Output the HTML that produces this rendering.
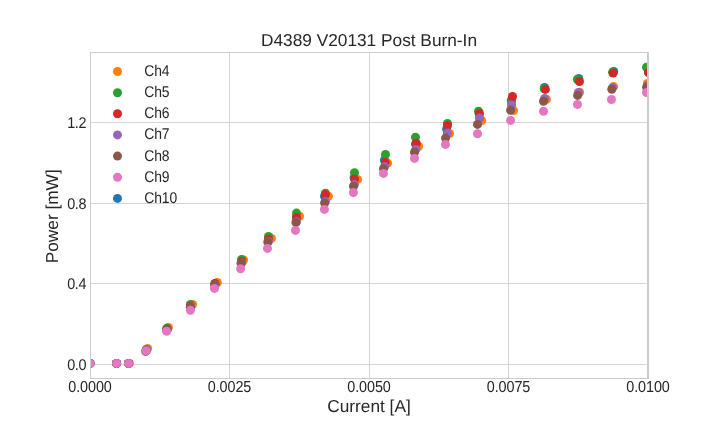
<!DOCTYPE html>
<html><head><meta charset="utf-8"><title>D4389 V20131 Post Burn-In</title>
<style>
html,body{margin:0;padding:0;background:#fff;}
body{width:720px;height:432px;overflow:hidden;}
svg{display:block;}
text{font-family:"Liberation Sans",sans-serif;fill:#262626;text-rendering:geometricPrecision;}
.tick{font-size:14.4px;letter-spacing:-0.1px;}
.lab{font-size:17.28px;}
.leg{font-size:13.9px;letter-spacing:-0.1px;}
</style></head><body>
<svg width="720" height="432" viewBox="0 0 720 432">
<rect width="720" height="432" fill="#ffffff"/>
<defs><clipPath id="ax"><rect x="90" y="52" width="558" height="327"/></clipPath></defs>

<g stroke="#d4d4d4" stroke-width="1" fill="none" shape-rendering="crispEdges">
<line x1="229.5" y1="52" x2="229.5" y2="378"/>
<line x1="369.5" y1="52" x2="369.5" y2="378"/>
<line x1="508.5" y1="52" x2="508.5" y2="378"/>
<line x1="90" y1="364.5" x2="648" y2="364.5"/>
<line x1="90" y1="283.5" x2="648" y2="283.5"/>
<line x1="90" y1="203.5" x2="648" y2="203.5"/>
<line x1="90" y1="122.5" x2="648" y2="122.5"/>
</g>
<g clip-path="url(#ax)">
<g fill="#1f77b4">
<circle cx="90" cy="363.4" r="4.5"/>
<circle cx="116.6" cy="363.4" r="4.5"/>
<circle cx="128.5" cy="363.4" r="4.5"/>
<circle cx="146.5" cy="350" r="4.5"/>
<circle cx="167" cy="329.5" r="4.5"/>
<circle cx="190.5" cy="306" r="4.5"/>
<circle cx="215" cy="284" r="4.5"/>
<circle cx="241.6" cy="261.4" r="4.5"/>
<circle cx="268.5" cy="239.3" r="4.5"/>
<circle cx="296.5" cy="217.3" r="4.5"/>
<circle cx="324.5" cy="196.25" r="4.5"/>
<circle cx="354.1" cy="177.6" r="4.5"/>
<circle cx="384.5" cy="160" r="4.5"/>
<circle cx="415.5" cy="144" r="4.5"/>
<circle cx="446.6" cy="129" r="4.5"/>
<circle cx="479.2" cy="113.8" r="4.5"/>
<circle cx="511.3" cy="100.3" r="4.5"/>
<circle cx="544.5" cy="87.4" r="4.5"/>
<circle cx="578.75" cy="78.5" r="4.5"/>
<circle cx="613.75" cy="71.4" r="4.5"/>
<circle cx="648.5" cy="72.4" r="4.5"/>
</g>
<g fill="#ff7f0e">
<circle cx="90" cy="363.4" r="4.5"/>
<circle cx="116.6" cy="363.4" r="4.5"/>
<circle cx="129.4" cy="363.4" r="4.5"/>
<circle cx="147.6" cy="348.4" r="4.5"/>
<circle cx="168.4" cy="327.4" r="4.5"/>
<circle cx="192.6" cy="304.5" r="4.5"/>
<circle cx="217.3" cy="282.4" r="4.5"/>
<circle cx="243.6" cy="260" r="4.5"/>
<circle cx="271.5" cy="238.4" r="4.5"/>
<circle cx="299.5" cy="216.25" r="4.5"/>
<circle cx="328.4" cy="196.25" r="4.5"/>
<circle cx="357.6" cy="179.4" r="4.5"/>
<circle cx="387.6" cy="163.1" r="4.5"/>
<circle cx="418.6" cy="146.25" r="4.5"/>
<circle cx="449.5" cy="133.5" r="4.5"/>
<circle cx="481.75" cy="120.6" r="4.5"/>
<circle cx="513.6" cy="110.6" r="4.5"/>
<circle cx="546.4" cy="99.4" r="4.5"/>
<circle cx="579.6" cy="92.25" r="4.5"/>
<circle cx="613.6" cy="86.6" r="4.5"/>
<circle cx="647.4" cy="83.4" r="4.5"/>
</g>
<g fill="#2ca02c">
<circle cx="90" cy="363.4" r="4.5"/>
<circle cx="116.6" cy="363.4" r="4.5"/>
<circle cx="128.5" cy="363.4" r="4.5"/>
<circle cx="146.3" cy="349.8" r="4.5"/>
<circle cx="167" cy="328.25" r="4.5"/>
<circle cx="190.4" cy="304.5" r="4.5"/>
<circle cx="215" cy="283.6" r="4.5"/>
<circle cx="241.6" cy="259.5" r="4.5"/>
<circle cx="268.5" cy="236.4" r="4.5"/>
<circle cx="296.5" cy="213.1" r="4.5"/>
<circle cx="325.4" cy="193.25" r="4.5"/>
<circle cx="354.5" cy="172.8" r="4.5"/>
<circle cx="385.5" cy="154.4" r="4.5"/>
<circle cx="415.5" cy="137.2" r="4.5"/>
<circle cx="447.5" cy="123.5" r="4.5"/>
<circle cx="478.5" cy="111.25" r="4.5"/>
<circle cx="511.6" cy="101.4" r="4.5"/>
<circle cx="544.25" cy="88.75" r="4.5"/>
<circle cx="577.4" cy="79.5" r="4.5"/>
<circle cx="612.6" cy="72.25" r="4.5"/>
<circle cx="646.5" cy="67.3" r="4.5"/>
</g>
<g fill="#d62728">
<circle cx="90" cy="363.4" r="4.5"/>
<circle cx="116.6" cy="363.4" r="4.5"/>
<circle cx="128.5" cy="363.4" r="4.5"/>
<circle cx="146.3" cy="350" r="4.5"/>
<circle cx="167" cy="329" r="4.5"/>
<circle cx="190.5" cy="306.3" r="4.5"/>
<circle cx="215" cy="283.5" r="4.5"/>
<circle cx="241.5" cy="261.4" r="4.5"/>
<circle cx="268.5" cy="239.5" r="4.5"/>
<circle cx="296.5" cy="217.5" r="4.5"/>
<circle cx="325.4" cy="194.6" r="4.5"/>
<circle cx="354.5" cy="179.1" r="4.5"/>
<circle cx="385.25" cy="162.6" r="4.5"/>
<circle cx="416.25" cy="143.4" r="4.5"/>
<circle cx="447.5" cy="125.4" r="4.5"/>
<circle cx="479.4" cy="113.5" r="4.5"/>
<circle cx="512.5" cy="96.5" r="4.5"/>
<circle cx="545.4" cy="89.4" r="4.5"/>
<circle cx="579.5" cy="81.5" r="4.5"/>
<circle cx="613.1" cy="73.1" r="4.5"/>
<circle cx="648.5" cy="72.4" r="4.5"/>
</g>
<g fill="#9467bd">
<circle cx="90" cy="363.4" r="4.5"/>
<circle cx="116.6" cy="363.4" r="4.5"/>
<circle cx="128.5" cy="363.4" r="4.5"/>
<circle cx="146.6" cy="350" r="4.5"/>
<circle cx="167.2" cy="330" r="4.5"/>
<circle cx="190.8" cy="307" r="4.5"/>
<circle cx="215.3" cy="285" r="4.5"/>
<circle cx="241.6" cy="263" r="4.5"/>
<circle cx="268.5" cy="241.5" r="4.5"/>
<circle cx="296.5" cy="221.75" r="4.5"/>
<circle cx="325.4" cy="201.6" r="4.5"/>
<circle cx="354.4" cy="184.6" r="4.5"/>
<circle cx="384.6" cy="166.4" r="4.5"/>
<circle cx="415.8" cy="149.5" r="4.5"/>
<circle cx="447.5" cy="133.1" r="4.5"/>
<circle cx="479.4" cy="118.1" r="4.5"/>
<circle cx="511.5" cy="105" r="4.5"/>
<circle cx="544.6" cy="98.5" r="4.5"/>
<circle cx="578.5" cy="92.4" r="4.5"/>
<circle cx="612.6" cy="87.6" r="4.5"/>
<circle cx="647.5" cy="85.4" r="4.5"/>
</g>
<g fill="#8c564b">
<circle cx="90" cy="363.4" r="4.5"/>
<circle cx="116.6" cy="363.4" r="4.5"/>
<circle cx="128.5" cy="363.4" r="4.5"/>
<circle cx="145.7" cy="351.4" r="4.5"/>
<circle cx="166.7" cy="329.5" r="4.5"/>
<circle cx="190.3" cy="307.25" r="4.5"/>
<circle cx="214.6" cy="285.1" r="4.5"/>
<circle cx="241" cy="263.25" r="4.5"/>
<circle cx="267.75" cy="241.9" r="4.5"/>
<circle cx="295.9" cy="222.5" r="4.5"/>
<circle cx="324.6" cy="202.9" r="4.5"/>
<circle cx="353.5" cy="186.25" r="4.5"/>
<circle cx="383.5" cy="168.75" r="4.5"/>
<circle cx="414.5" cy="152.3" r="4.5"/>
<circle cx="445.5" cy="138.1" r="4.5"/>
<circle cx="477.5" cy="124.4" r="4.5"/>
<circle cx="510.6" cy="110.25" r="4.5"/>
<circle cx="543.5" cy="101.25" r="4.5"/>
<circle cx="577.6" cy="95.4" r="4.5"/>
<circle cx="611.8" cy="89.2" r="4.5"/>
<circle cx="646.6" cy="87.2" r="4.5"/>
</g>
<g fill="#e377c2">
<circle cx="90" cy="363.4" r="4.5"/>
<circle cx="116.6" cy="363.4" r="4.5"/>
<circle cx="128.5" cy="363.4" r="4.5"/>
<circle cx="146" cy="350.9" r="4.5"/>
<circle cx="166.6" cy="331.25" r="4.5"/>
<circle cx="190.4" cy="310.25" r="4.5"/>
<circle cx="214.5" cy="288.4" r="4.5"/>
<circle cx="240.6" cy="268.75" r="4.5"/>
<circle cx="267.5" cy="248.4" r="4.5"/>
<circle cx="295.5" cy="230.4" r="4.5"/>
<circle cx="324.4" cy="209.4" r="4.5"/>
<circle cx="353.4" cy="192.5" r="4.5"/>
<circle cx="383.5" cy="173.4" r="4.5"/>
<circle cx="414.5" cy="158.4" r="4.5"/>
<circle cx="445.5" cy="144.4" r="4.5"/>
<circle cx="477.5" cy="133.75" r="4.5"/>
<circle cx="510.6" cy="120.4" r="4.5"/>
<circle cx="543.5" cy="111.25" r="4.5"/>
<circle cx="577.5" cy="104.4" r="4.5"/>
<circle cx="611.5" cy="99.5" r="4.5"/>
<circle cx="646.5" cy="92.5" r="4.5"/>
</g>
</g>
<g fill="#cccccc" shape-rendering="crispEdges"><rect x="90" y="52" width="1" height="327"/><rect x="90" y="52" width="559" height="1"/><rect x="90" y="378" width="559" height="1"/><rect x="647" y="52" width="2" height="327"/></g>
<circle cx="117.5" cy="71.5" r="4.5" fill="#ff7f0e"/>
<text class="leg" transform="translate(144.2,75.9) scale(1,1.12)">Ch4</text>
<circle cx="117.5" cy="92.7" r="4.5" fill="#2ca02c"/>
<text class="leg" transform="translate(144.2,97.1) scale(1,1.12)">Ch5</text>
<circle cx="117.5" cy="113.8" r="4.5" fill="#d62728"/>
<text class="leg" transform="translate(144.2,118.2) scale(1,1.12)">Ch6</text>
<circle cx="117.5" cy="134.9" r="4.5" fill="#9467bd"/>
<text class="leg" transform="translate(144.2,139.3) scale(1,1.12)">Ch7</text>
<circle cx="117.5" cy="156.1" r="4.5" fill="#8c564b"/>
<text class="leg" transform="translate(144.2,160.5) scale(1,1.12)">Ch8</text>
<circle cx="117.5" cy="177.2" r="4.5" fill="#e377c2"/>
<text class="leg" transform="translate(144.2,181.7) scale(1,1.12)">Ch9</text>
<circle cx="117.5" cy="198.4" r="4.5" fill="#1f77b4"/>
<text class="leg" transform="translate(144.2,202.8) scale(1,1.12)">Ch10</text>
<text class="tick" transform="translate(90,392.0) scale(1,1.1)" text-anchor="middle">0.0000</text>
<text class="tick" transform="translate(229.5,392.0) scale(1,1.1)" text-anchor="middle">0.0025</text>
<text class="tick" transform="translate(369,392.0) scale(1,1.1)" text-anchor="middle">0.0050</text>
<text class="tick" transform="translate(508.5,392.0) scale(1,1.1)" text-anchor="middle">0.0075</text>
<text class="tick" transform="translate(648,392.0) scale(1,1.1)" text-anchor="middle">0.0100</text>
<text class="tick" style="letter-spacing:-0.4px" transform="translate(86,369.8) scale(1,1.08)" text-anchor="end">0.0</text>
<text class="tick" style="letter-spacing:-0.4px" transform="translate(86,288.8) scale(1,1.08)" text-anchor="end">0.4</text>
<text class="tick" style="letter-spacing:-0.4px" transform="translate(86,208.8) scale(1,1.08)" text-anchor="end">0.8</text>
<text class="tick" style="letter-spacing:-0.4px" transform="translate(86,127.8) scale(1,1.08)" text-anchor="end">1.2</text>
<text class="lab" x="369" y="412" text-anchor="middle">Current [A]</text>
<text class="lab" transform="translate(58,216.3) rotate(-90)" text-anchor="middle">Power [mW]</text>
<text class="lab" x="369" y="45.9" text-anchor="middle">D4389 V20131 Post Burn-In</text>
</svg></body></html>
